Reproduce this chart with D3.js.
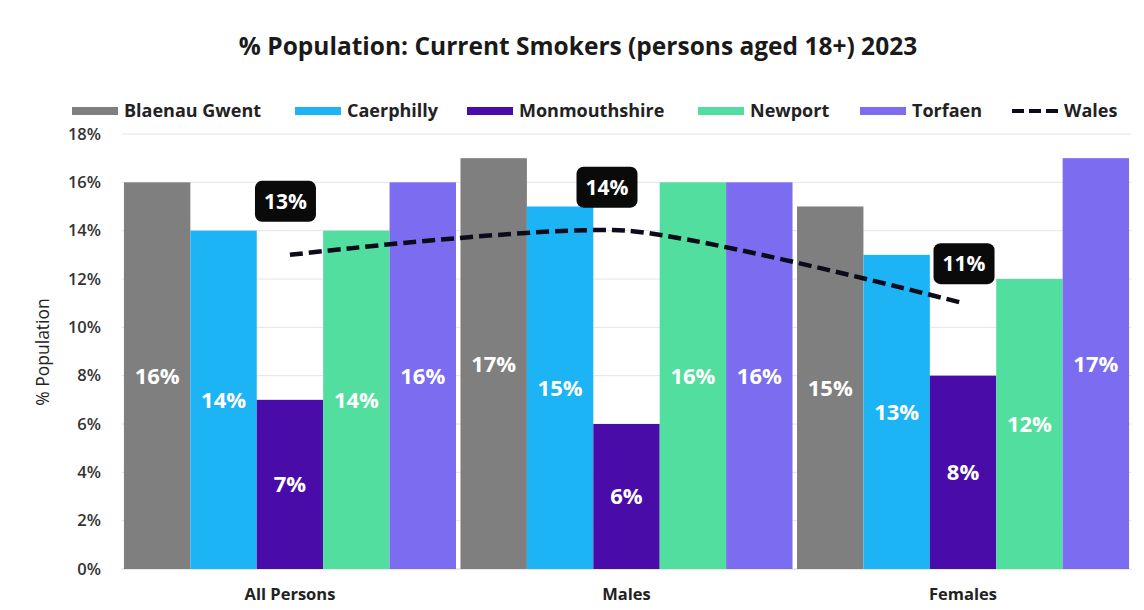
<!DOCTYPE html>
<html>
<head>
<meta charset="utf-8">
<script src="https://cdn.jsdelivr.net/npm/d3@7"></script>
<style>
  html, body { margin: 0; padding: 0; background: #ffffff; }
  svg { display: block; font-family: "Open Sans", "Noto Sans", sans-serif; }
</style>
</head>
<body>
<svg id="chart" width="1144" height="610"></svg>
<script>
// Smoking prevalence, adults 18+, 2023
const groups = ["All Persons", "Males", "Females"];
const areas = ["Blaenau Gwent", "Caerphilly", "Monmouthshire", "Newport", "Torfaen"];
const blaenauGwent = [16, 17, 15];
const caerphilly = [14, 15, 13];
const monmouthshire = [7, 6, 8];
const newport = [14, 16, 12];
const torfaen = [16, 16, 17];
const wales = [13, 14, 11];
const yTicks = [0, 2, 4, 6, 8, 10, 12, 14, 16, 18];

const seriesValues = [blaenauGwent, caerphilly, monmouthshire, newport, torfaen];
const colors = ["#7f7f7f", "#1cb4f4", "#4a0ca8", "#52de9e", "#7b6cf0"];

// Callout nudges for the Wales value boxes, relative to each line point
const calloutShift = [{dx: -4.5, dy: -53.5}, {dx: -19.5, dy: -43.5}, {dx: 1, dy: -39.5}];

const svg = d3.select("#chart");
const plot = {left: 121.7, right: 1131.3, top: 134, bottom: 569};

const x0 = d3.scaleBand().domain(groups)
  .range([plot.left, plot.right]).paddingInner(0.0134).paddingOuter(0.0067);
const x1 = d3.scaleBand().domain(areas).range([0, x0.bandwidth()]);
const y = d3.scaleLinear().domain([0, 18]).range([plot.bottom, plot.top]);

// Title
svg.append("text")
  .attr("x", 578).attr("y", 55)
  .attr("text-anchor", "middle")
  .attr("font-size", 24.5).attr("font-weight", 700).attr("fill", "#1a1a1a")
  .text("% Population: Current Smokers (persons aged 18+) 2023");

// Gridlines
svg.append("g").selectAll("line").data(yTicks).join("line")
  .attr("x1", plot.left).attr("x2", plot.right)
  .attr("y1", d => y(d)).attr("y2", d => y(d))
  .attr("stroke", d => d === 0 ? "#cfcfcf" : "#e4e4e4").attr("stroke-width", 1);

// Y axis labels
const yAxis = d3.axisLeft(y).tickValues(yTicks).tickFormat(d => d + "%").tickSize(0).tickPadding(0);
const yg = svg.append("g").attr("transform", `translate(101,0)`).call(yAxis);
yg.select(".domain").remove();
yg.selectAll("text").attr("font-size", 16.5).attr("font-weight", 600).attr("fill", "#333")
  .attr("font-family", "'Open Sans', sans-serif");

svg.append("text")
  .attr("transform", "translate(49,352) rotate(-90)")
  .attr("text-anchor", "middle")
  .attr("font-size", 17.5).attr("fill", "#222")
  .text("% Population");

// X axis labels
const xAxis = d3.axisBottom(x0).tickSize(0).tickPadding(0);
const xg = svg.append("g").attr("transform", `translate(0,${plot.bottom + 19})`).call(xAxis);
xg.select(".domain").remove();
xg.selectAll("text").attr("font-size", 16.5).attr("font-weight", 700).attr("fill", "#222")
  .attr("font-family", "'Open Sans', sans-serif").attr("dy", "0.71em");

// Bars
const rows = groups.map((g, gi) => areas.map((a, ai) => ({group: g, area: a, value: seriesValues[ai][gi], color: colors[ai]})));
const gGroups = svg.append("g").selectAll("g").data(rows).join("g")
  .attr("transform", (d, i) => `translate(${x0(groups[i])},0)`);

gGroups.selectAll("rect").data(d => d).join("rect")
  .attr("x", d => x1(d.area))
  .attr("width", x1.bandwidth())
  .attr("y", d => y(d.value))
  .attr("height", d => y(0) - y(d.value))
  .attr("fill", d => d.color);

gGroups.selectAll("text.val").data(d => d).join("text")
  .attr("class", "val")
  .attr("x", d => x1(d.area) + x1.bandwidth() / 2)
  .attr("y", d => (y(d.value) + y(0)) / 2)
  .attr("dy", "0.36em")
  .attr("text-anchor", "middle")
  .attr("font-size", 22).attr("font-weight", 700).attr("fill", "#ffffff")
  .text(d => d.value + "%");

// Wales average line (dashed, smoothed) through group centres
const walesPts = groups.map((g, i) => ({x: x0(g) + x0.bandwidth() / 2, y: y(wales[i]), v: wales[i]}));
svg.append("path")
  .datum(walesPts)
  .attr("d", d3.line().x(d => d.x).y(d => d.y).curve(d3.curveCardinal.tension(0.3)))
  .attr("fill", "none").attr("stroke", "#0b0b1a").attr("stroke-width", 4.5)
  .attr("stroke-dasharray", "13,6");

const callouts = svg.append("g").selectAll("g").data(walesPts).join("g")
  .attr("transform", (d, i) => `translate(${d.x + calloutShift[i].dx},${d.y + calloutShift[i].dy})`);
callouts.append("rect")
  .attr("x", -30.5).attr("y", -20.5).attr("width", 61).attr("height", 41)
  .attr("rx", 7).attr("fill", "#0a0a0a");
callouts.append("text")
  .attr("text-anchor", "middle").attr("dy", "0.36em")
  .attr("font-size", 21).attr("font-weight", 700).attr("fill", "#ffffff")
  .text(d => d.v + "%");

// Legend
const legendItems = areas.map((a, i) => ({label: a, color: colors[i], dashed: false}))
  .concat([{label: "Wales", color: "#0b0b1a", dashed: true}]);
const legendX = [72, 295, 467, 698, 860, 1012];
const lg = svg.append("g").selectAll("g").data(legendItems).join("g")
  .attr("transform", (d, i) => `translate(${legendX[i]},111)`);
lg.filter(d => !d.dashed).append("rect")
  .attr("x", 0).attr("y", -4).attr("width", 46).attr("height", 8).attr("fill", d => d.color);
lg.filter(d => d.dashed).append("line")
  .attr("x1", 0).attr("x2", 46).attr("y1", 0).attr("y2", 0)
  .attr("stroke", d => d.color).attr("stroke-width", 4).attr("stroke-dasharray", "12,5");
lg.append("text")
  .attr("x", 52).attr("dy", "0.36em")
  .attr("font-size", 18).attr("font-weight", 700).attr("fill", "#222")
  .text(d => d.label);
</script>
</body>
</html>
